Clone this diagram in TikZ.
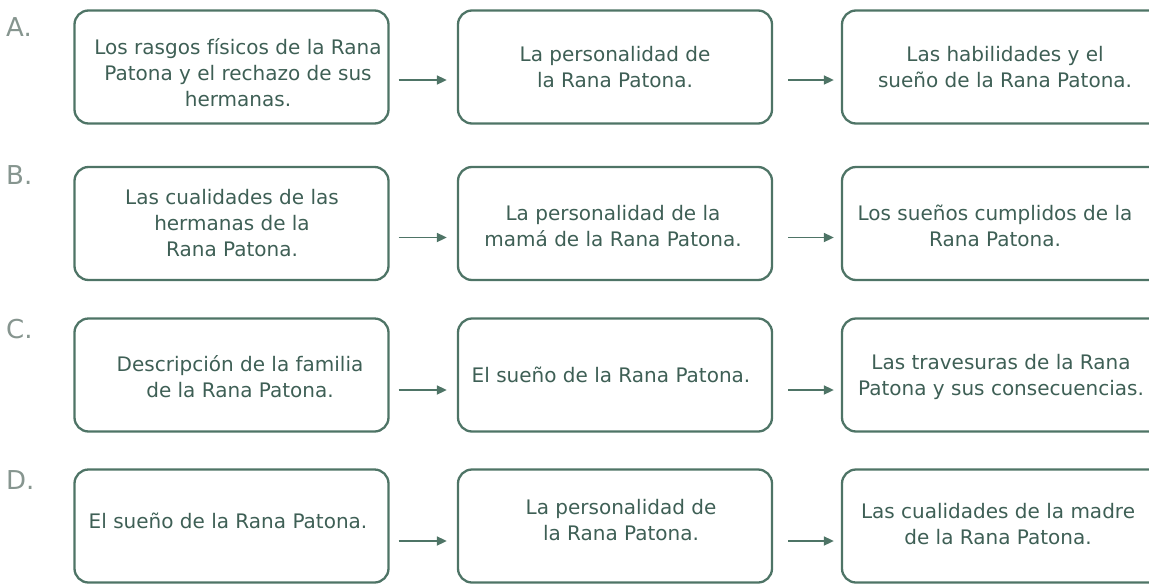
\documentclass[tikz,border=0pt]{standalone}
\usepackage{fontspec}
\setmainfont{DejaVu Sans}
\usetikzlibrary{arrows.meta}
\definecolor{boxc}{HTML}{4E7466}
\definecolor{txtc}{HTML}{3E5F55}
\definecolor{labc}{HTML}{86958F}
\tikzset{
  card/.style={draw=boxc, line width=2.3pt, rounded corners=14pt, minimum width=314pt, minimum height=113pt, inner sep=0pt},
  cardr/.style={card, minimum width=340pt},
  cardtext/.style={text=txtc, align=center, font=\fontsize{20}{26}\selectfont, inner sep=0pt},
  arr/.style={draw=boxc, line width=1.7pt, -{Triangle[length=10pt,width=9pt]}},
  rowlab/.style={text=labc, font=\fontsize{26}{30}\selectfont, anchor=west, inner sep=0pt}
}
\begin{document}
\begin{tikzpicture}[x=1pt,y=-1pt]
\useasboundingbox (0,0) rectangle (1149,584);
% labels
\node[rowlab] (la) at (6,27) {A.};
\node[rowlab] (lb) at (6,175) {B.};
\node[rowlab] (lc) at (6,329) {C.};
\node[rowlab] (ld) at (6,480) {D.};
% row A
\node[card] (a1) at (231.5,67) {};
\node[card] (a2) at (615,67) {};
\node[cardr] (a3) at (1012,67) {};
\node[cardtext] (ta1) at (238,73) {Los rasgos físicos de la Rana\\Patona y el rechazo de sus\\hermanas.};
\node[cardtext] (ta2) at (615,67) {La personalidad de\\la Rana Patona.};
\node[cardtext] (ta3) at (1005,67) {Las habilidades y el\\sueño de la Rana Patona.};
% row B
\node[card] (b1) at (231.5,223.5) {};
\node[card] (b2) at (615,223.5) {};
\node[cardr] (b3) at (1012,223.5) {};
\node[cardtext] (tb1) at (232,223) {Las cualidades de las\\hermanas de la\\Rana Patona.};
\node[cardtext] (tb2) at (613,226) {La personalidad de la\\mamá de la Rana Patona.};
\node[cardtext] (tb3) at (995,226) {Los sueños cumplidos de la\\Rana Patona.};
% row C
\node[card] (c1) at (231.5,375) {};
\node[card] (c2) at (615,375) {};
\node[cardr] (c3) at (1012,375) {};
\node[cardtext] (tc1) at (240,377) {Descripción de la familia\\de la Rana Patona.};
\node[cardtext] (tc2) at (611,375) {El sueño de la Rana Patona.};
\node[cardtext] (tc3) at (1001,377) {Las travesuras de la Rana\\Patona y sus consecuencias.};
% row D
\node[card] (d1) at (231.5,526) {};
\node[card] (d2) at (615,526) {};
\node[cardr] (d3) at (1012,526) {};
\node[cardtext] (td1) at (228,521) {El sueño de la Rana Patona.};
\node[cardtext] (td2) at (621,520) {La personalidad de\\la Rana Patona.};
\node[cardtext] (td3) at (998,524) {Las cualidades de la madre\\de la Rana Patona.};
% arrows
\foreach \r/\dy in {a/13,b/14,c/15,d/15}{
  \draw[arr, shorten <=9pt, shorten >=10pt] ([yshift=-\dy pt]\r1.east) -- ([yshift=-\dy pt]\r2.west);
  \draw[arr, shorten <=15pt, shorten >=7pt] ([yshift=-\dy pt]\r2.east) -- ([yshift=-\dy pt]\r3.west);
}
\end{tikzpicture}
\end{document}
